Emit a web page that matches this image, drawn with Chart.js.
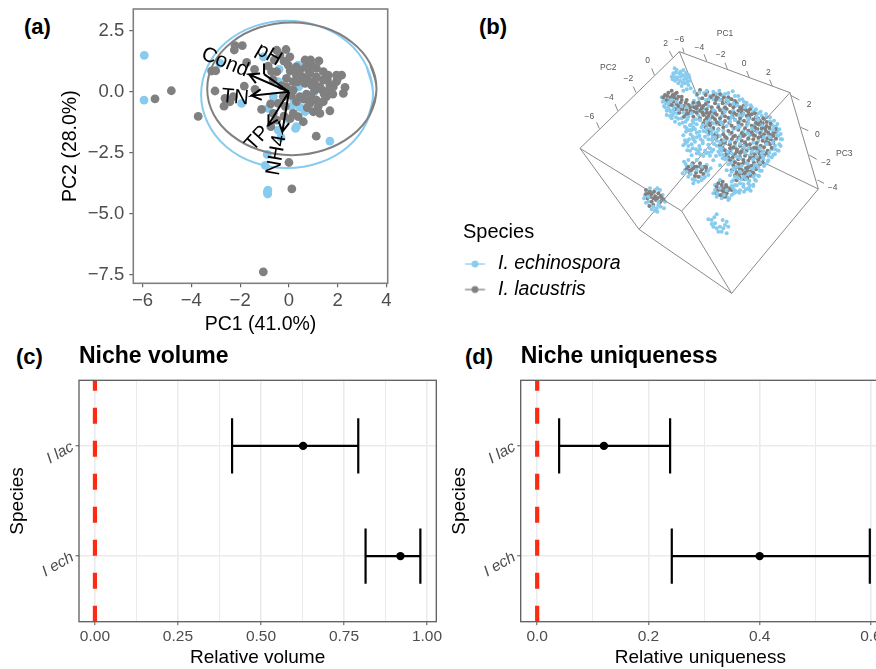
<!DOCTYPE html>
<html>
<head>
<meta charset="utf-8">
<title>Niche comparison</title>
<script src="https://cdn.jsdelivr.net/npm/chart.js@4/dist/chart.umd.min.js"></script>
<style>
  html, body { margin: 0; padding: 0; background: #fff; width: 876px; height: 669px; overflow: hidden; }
  canvas { position: absolute; display: block; }
  .tag { position: absolute; font: bold 22px "Liberation Sans", Arial, sans-serif; color: #000; line-height: 26px; }
</style>
</head>
<body>
<div class="tag" style="left:24px;top:14px">(a)</div>
<div class="tag" style="left:479px;top:14px">(b)</div>
<div class="tag" style="left:16px;top:344px">(c)</div>
<div class="tag" style="left:465px;top:344px">(d)</div>
<canvas id="pca" width="440" height="340" style="left:0;top:0"></canvas>
<canvas id="cube" width="336" height="290" style="left:540px;top:20px"></canvas>
<canvas id="legend" width="400" height="110" style="left:463px;top:218px"></canvas>
<canvas id="volume" width="445" height="326" style="left:0;top:343px"></canvas>
<canvas id="unique" width="460" height="326" style="left:440px;top:343px"></canvas>
<script>
const BLUE = '#87cbee';
const GRAY = '#808080';
const FONT = '"Liberation Sans", Arial, sans-serif';

// panel a
const pcaXTicks = [-6, -4, -2, 0, 2, 4];
const pcaYTicks = [2.5, 0, -2.5, -5, -7.5];
const pcaBlue = [[-5.93,1.49],[-5.94,-.34],[-2.83,1.16],[-1.94,-.48],[-1.05,1.43],[-.4,.92],[.38,1.09],[-.44,.41],
  [-.64,-.2],[-.85,-.68],[.11,-.61],[-.03,-1.13],[.31,-1.43],[.27,-1.5],[.45,-.64],[.66,-.82],[.52,.48],[1,-.07],
  [-.44,-1.57],[-.33,-1.87],[1.68,-2.02],[-.89,-2.57],[-.97,-3.02],[-.86,-4.03],[-.87,-4.19],[-.89,-4.11],[.2,-.35],[.4,.2]];
const pcaGray = [[-4.82,.04],[-5.49,-.29],[-3.72,-1.01],[-3.03,.03],[-2.21,1.89],[-2.24,1.71],[-1.91,1.89],[-1.73,1.2],
  [-1.41,.92],[-3.17,.85],[-3,.86],[-1.83,.23],[-1.39,.1],[-2.62,-.27],[-2.66,-.59],[-2.28,-.2],[-2.42,-.41],[-1.12,-.72],
  [-.74,-1.43],[1.12,-1.82],[1.68,-.78],[1.27,-.89],[0,-2.9],[.12,-3.98],[-1.05,-7.38],
  [-.5,1.7],[-.12,1.73],[-.37,1.5],[.04,1.43],[-.03,1.09],[-.71,.82],[-.5,.82],[-.2,1.25],[-.85,1.05],[-.6,1.3],
  [.66,1.3],[.89,1.3],[1.23,1.26],[.93,1.09],[1.13,.96],[1.41,.82],[1.61,.68],[1.95,.68],[2.16,.68],[2.3,.18],[2.23,-.07],
  [1.95,.41],[1.68,.27],[1.41,.48],[1.13,.61],[.86,.75],[.45,.89],[.31,.68],[.18,.41],[-.1,.55],[.66,.34],[.93,.27],
  [1.27,.2],[1.54,-.2],[1.41,-.41],[1.13,-.34],[.86,-.48],[1,-.82],[.45,-.2],[.18,.07],[.31,-.41],[-.23,-.2],[-.44,-.48],
  [-.64,-.89],[-.5,-1.16],[.18,-.89],[.38,-1.02],[.59,-1.23],[.05,.85],[.3,1.02],[.7,1.03],[.55,.62],[.78,.48],[1.05,.42],
  [1.35,.08],[1.62,.05],[1.82,.2],[1.05,.05],[.72,-.1],[.62,-.3],[.9,-.2],[1.2,-.6],[.75,-.65],[.1,-.15],[-.1,.2],[.35,.4],
  [-.3,.25],[-.65,.5],[-.15,-.6],[.05,-1.1],[-.2,-1],[-.75,-.5],[1.58,.48],[2,.55],[1.8,-.1],[1.45,-.1],[.25,.95],[.8,.9]];
// outlines overlap at the seam so the curve stays smooth there
const blueEllipse = [[3.18,-1.27],[3.45,-.11],[3.18,1.05],[2.42,2.03],[1.275,2.68],[-.075,2.91],[-1.425,2.68],[-2.57,2.03],[-3.33,1.05],
  [-3.6,-.11],[-3.33,-1.27],[-2.57,-2.25],[-1.425,-2.9],[-.075,-3.13],[1.275,-2.9],[2.42,-2.25],[3.18,-1.27],[3.45,-.11],[3.18,1.05]];
const grayEllipse = [[3.33,-.92],[3.59,.12],[3.33,1.16],[2.57,2.04],[1.45,2.63],[.12,2.84],[-1.21,2.63],[-2.33,2.04],[-3.09,1.16],
  [-3.35,.12],[-3.09,-.92],[-2.33,-1.8],[-1.21,-2.39],[.12,-2.6],[1.45,-2.39],[2.57,-1.8],[3.33,-.92],[3.59,.12],[3.33,1.16]];
const loadingNames = ['Cond', 'pH', 'TN', 'TP', 'NH4'];
const loadingEnds = [[-1.63,.71],[-1.02,.72],[-1.53,-.16],[-.85,-1.37],[-.27,-1.64]];
const loadingLabelAt = [[-2.62,1.2],[-.82,1.52],[-2.21,-.23],[-1.29,-1.92],[-.5,-2.6]];
const loadingLabelTurn = [22, 30, 5, -48, -80];
const phStem = [[-1.02,.72],[-1.02,1.16]];

// panel b, plot units are the projected picture coordinates
const cubeEdgesBack = [[[418,95],[525,357]],[[525,357],[835,507]],[[525,357],[297,628]]];
const cubeEdgesFront = [[[418,95],[750,218]],[[750,218],[835,507]],[[835,507],[575,820]],[[575,820],[297,628]],
  [[297,628],[120,385]],[[120,385],[418,95]],[[120,385],[425,573]],[[425,573],[750,218]],[[425,573],[575,820]]];
const cubeTicks = [[[432,98],[428,83]],[[500,123],[492,103]],[[562,147],[555,128]],[[628,173],[620,153]],[[697,199],[689,179]],
  [[398,112],[388,93]],[[343,165],[335,145]],[[288,218],[280,200]],[[233,272],[225,252]],[[178,326],[170,307]],
  [[752,226],[778,240]],[[782,322],[805,332]],[[808,405],[830,418]],[[832,480],[852,490]]];
const cubeTexts = ['PC1','PC2','PC3','−6','−4','−2','0','2','2','0','−2','−4','−6','2','0','−2','−4'];
const cubeTextAt = [[555,40],[205,143],[913,400],[418,60],[478,83],[542,105],[612,130],[685,157],
  [377,72],[323,123],[265,177],[207,232],[148,290],[807,255],[832,345],[858,428],[878,503]];
const cubeBlue = [[404,145],[407,158],[402,170],[398,178],[412,172],[420,182],[430,150],[438,158],[446,165],[428,165],[440,175],
  [450,182],[415,190],[425,198],[435,190],[445,195],[452,205],[440,208],[430,212],[405,182],[418,160],[395,170],[432,178],
  [378,250],[385,262],[372,240],[392,275],[380,285],[395,295],[405,305],[388,240],[400,258],[412,280],[425,295],[437,305],
  [418,312],[445,290],[452,315],[435,320],[380,272],[365,232],[398,285],[410,265],
  [470,225],[492,219],[510,228],[528,221],[545,226],[565,219],[585,228],[462,242],[478,236],[498,241],[520,238],[548,243],
  [572,237],[598,240],[612,246],[455,256],[470,251],[505,258],[535,254],[560,250],[585,259],[620,255],[635,262],
  [468,271],[490,268],[525,273],[550,267],[580,272],[610,268],[640,274],[655,280],[475,286],[515,283],[545,288],[575,282],
  [605,289],[632,284],[665,287],[680,292],[480,301],[510,298],[540,303],[570,297],[600,302],[625,299],[650,303],[672,298],[690,304],
  [450,316],[470,313],[500,317],[530,312],[560,318],[595,314],[620,317],[645,313],[668,318],[695,314],[708,320],
  [445,331],[465,328],[490,333],[520,329],[550,332],[580,327],[610,333],[640,329],[665,332],[690,328],[712,334],
  [430,346],[452,343],[478,347],[505,344],[540,348],[570,342],[600,347],[630,344],[660,348],[685,343],[715,347],
  [435,361],[460,358],[488,363],[515,359],[530,362],[560,357],[590,362],[625,358],[655,363],[680,359],[700,362],[722,358],
  [430,376],[455,373],[478,378],[505,374],[530,377],[552,372],[585,378],[615,374],[650,377],[678,372],[705,377],[718,373],
  [442,391],[468,388],[495,392],[520,389],[545,393],[575,388],[605,392],[640,388],[670,393],[695,388],[712,391],
  [455,406],[480,403],[510,407],[540,404],[565,408],[600,403],[630,407],[660,403],[685,407],[700,404],
  [520,421],[555,418],[580,422],[610,419],[640,423],[670,418],[685,421],[540,436],[565,433],[595,437],[625,434],[650,437],[675,433],
  [560,451],[585,448],[610,452],[635,449],[660,452],[570,466],[595,463],[620,467],[645,464],[655,467],
  [580,481],[605,478],[628,482],[645,479],[590,496],[610,493],[630,497],[640,494],[600,511],[618,508],[632,512],
  [432,425],[440,440],[428,460],[445,470],[458,478],[475,485],[490,475],[505,465],[512,445],[500,435],[470,420],[445,420],[435,450],[460,490],[480,470],[498,455],
  [525,510],[520,520],[530,530],[545,535],[560,530],[575,525],[590,515],[585,495],[575,485],[540,480],[525,495],[565,540],
  [345,510],[360,510],[368,525],[315,525],[350,565],[362,560],[372,565],[345,572],[325,545],[318,548],[355,555],
  [505,598],[515,600],[530,583],[525,610],[548,600],[560,605],[565,620],[555,615],[540,620],[530,625],[520,620],[545,635],[560,640],[535,635],[515,612],[523,592],[550,625]];
const cubeGray = [[375,225],[385,218],[395,212],[405,222],[415,230],[380,240],[392,232],[400,245],[410,252],[422,248],[432,258],
  [440,270],[420,268],[405,268],[395,255],[445,255],[452,272],[462,262],[475,248],[470,278],[485,265],[460,290],
  [480,210],[497,225],[512,232],[535,235],[552,232],[575,238],[590,250],[505,245],[525,250],[548,250],[570,255],[600,262],[618,270],
  [480,272],[500,268],[515,273],[540,270],[560,267],[595,272],[625,276],[490,285],[505,288],[530,284],[555,289],[590,284],[620,288],[648,291],
  [495,301],[525,298],[555,303],[585,299],[612,302],[640,298],[660,303],[680,306],[510,316],[540,313],[575,317],[605,314],[635,317],[655,313],[680,318],
  [505,331],[535,328],[565,333],[595,329],[625,332],[652,328],[678,333],[700,336],[520,346],[550,343],[585,347],[615,344],[645,347],[672,343],[700,348],
  [545,361],[575,358],[605,362],[640,358],[668,362],[692,358],[540,376],[570,373],[600,377],[630,373],[662,377],[690,373],
  [555,391],[590,388],[620,392],[655,388],[683,392],[555,406],[585,403],[615,407],[645,403],[672,406],
  [570,421],[595,418],[625,422],[655,418],[580,436],[605,433],[635,437],[660,433],[575,451],[600,448],[622,452],[648,448],
  [585,466],[610,463],[632,467],[590,481],[615,478],
  [445,440],[458,430],[470,440],[480,430],[492,440],[500,450],[455,450],[468,458],[482,455],[475,470],[490,462],[450,460],
  [535,490],[548,485],[558,495],[570,505],[545,500],[535,510],[550,515],[560,520],[575,510],[540,525],[555,530],
  [318,510],[325,520],[335,522],[345,530],[355,520],[365,535],[322,535],[335,545],[348,540],[360,545],[328,558],[340,555],[370,538],
  [370,232],[382,228],[398,225],[410,238],[425,240],[437,248],[388,252],[402,232],[415,258],[428,268],[438,282],[450,262],[460,275],[445,280],[432,290],[418,278],[470,265],[478,255],[490,258],
  [472,222],[487,235],[502,215],[520,225],[540,222],[528,240],[560,243],[585,243],[610,258],[630,268],[645,280],[497,252],[515,262],[535,262],[555,262],[580,262],[605,278],[635,283],
  [487,278],[508,279],[525,280],[548,278],[570,276],[583,280],[610,281],[500,294],[518,292],[540,295],[565,293],[578,291],[600,295],[628,293],[655,296],[670,295],
  [490,310],[505,308],[530,307],[548,310],[568,308],[595,307],[622,309],[648,308],[668,310],[692,311],[497,322],[520,324],[550,322],[585,323],[615,325],[645,322],[665,325],[688,323],[708,327],
  [510,338],[528,340],[575,338],[605,339],[635,337],[660,339],[685,338],[705,340],[530,352],[560,354],[595,353],[625,355],[655,353],[682,355],[708,356],
  [555,367],[585,368],[615,367],[650,369],[678,367],[700,368],[548,383],[580,382],[610,384],[642,383],[672,382],[695,383],[570,397],[600,398],[635,398],[662,397],[680,399],
  [565,413],[600,412],[630,414],[660,412],[585,427],[612,428],[642,429],[668,427],[590,442],[618,444],[645,442],[590,457],[615,458],[640,458],[598,472],[622,473],
  [440,448],[462,440],[486,448],[465,468],[498,442],[445,452],[530,500],[565,510],[545,510],[555,505],[530,520],[548,525],[330,530],[342,515],[352,535],[318,522],[362,528],
  [460,248],[440,240],[425,230],[410,218],[395,240],[530,232],[545,240],[565,232],[605,268],[625,285],[660,310],[675,325],[693,345],[685,368],[650,385],[620,375],[590,395],[560,400],[545,370],[530,345],[515,310],[500,278],[480,295],[470,260],
  [555,350],[580,350],[610,348],[640,345],[665,350],[570,385],[605,395],[630,385],[658,400],[640,412],[610,420],[578,412],[595,432],[625,442],[655,425],[605,450],[630,455],[598,462],[480,440],[460,445],[545,495],[560,500],[340,535],[330,515]];
// blue dots that sit over the gray ones
const cubeBlueTop = [[410,150],[422,155],[436,168],[448,172],[410,178],[422,170],[400,160],[442,185],[428,188],
  [372,258],[388,270],[375,262],[402,278],[415,296],[390,288],[428,308],[442,298],[458,302],[408,292],[368,245],
  [463,215],[478,218],[500,212],[520,215],[538,212],[555,222],[578,214],[595,228],[607,238],[620,248],[632,256],[648,268],[662,275],[678,282],[690,292],[702,302],[712,312],[718,328],[722,342],[726,358],[722,378],[716,392],[705,402],[695,412],[683,425],[672,438],[665,452],[657,468],[648,482],[640,498],[628,508],[612,515],[598,518],[585,512],
  [438,335],[455,330],[470,338],[485,322],[498,335],[512,328],[530,338],[518,352],[495,350],[470,352],[442,365],[465,365],[488,370],[510,385],[522,372],[540,368],[545,385],[535,395],[550,405],[560,415],[572,430],[458,385],[480,388],[505,398],[490,408],[470,400],[445,378],
  [505,238],[540,240],[565,245],[592,256],[610,282],[575,292],[545,310],[590,325],[622,340],[600,355],[650,335],[672,352],[640,368],[612,382],[660,385],[690,352],[680,372],[635,395],[600,415],[650,410],[620,430],[590,440],[640,445],[610,470],[625,490],[600,490],[670,410],[700,330],[655,300],[625,310],[480,300],[520,270],[555,275],[585,300],
  [437,432],[452,462],[485,480],[505,452],[465,480],[532,520],[552,525],[580,505],[568,535],[582,520],[330,505],[352,505],[375,545],[335,568],[352,575],[312,535],
  [440,325],[460,322],[478,335],[500,325],[515,340],[525,352],[505,358],[482,358],[458,350],[447,358],[436,370],[450,392],[475,395],[498,400],[515,395],[528,408],[548,415],[540,385],[563,395],[552,362],[535,330],[520,310],[500,305],[488,315],[460,308],[468,298],[452,330],
  [560,240],[580,250],[615,262],[650,290],[625,295],[598,285],[570,305],[600,320],[635,325],[665,315],[700,318],[710,345],[698,368],[705,388],[688,398],[665,400],[650,395],[625,385],[600,372],[570,365],[575,400],[590,410],[615,398],[640,418],[660,428],[645,435],[605,438],[580,445],[600,455],[628,460],[655,442],[640,470],[618,478],[595,475],[610,500],[625,505],[585,470],[575,455],
  [395,240],[410,245],[425,258],[440,262],[455,280],[430,278],[415,270],[400,268],[385,250],[440,455],[470,450],[495,470],[455,435],[485,440],[540,505],[560,510],[575,498],[325,530],[340,560],[355,545]];

// legend
const speciesNames = ['I. echinospora', 'I. lacustris'];

// panels c and d
const categories = ['I lac', 'I ech'];
const volumeLow = [0.413, 0.815];
const volumeMid = [0.627, 0.92];
const volumeHigh = [0.793, 0.98];
const volumeTicks = [0, 0.25, 0.5, 0.75, 1];
const volumeMinor = [0.125, 0.375, 0.625, 0.875];
const uniqueLow = [0.0395, 0.242];
const uniqueMid = [0.12, 0.4];
const uniqueHigh = [0.239, 0.598];
const uniqueTicks = [0, 0.2, 0.4, 0.6];
const uniqueMinor = [0.1, 0.3, 0.5];

Chart.defaults.font.family = FONT;
Chart.defaults.animation = false;
Chart.defaults.responsive = false;
Chart.defaults.layout.autoPadding = false;
Chart.defaults.plugins.legend.display = false;
Chart.defaults.plugins.tooltip.enabled = false;

const setTicks = values => axis => { axis.ticks = values.map(v => ({ value: v })); };

// fixes the axis band and drops the room kept for overhanging labels
const fitAxis = (prop, size) => s => {
  s[prop] = size;
  s.paddingTop = s.paddingBottom = s.paddingLeft = s.paddingRight = 0;
};

// closes the panel on all four sides
const frame = (color, width) => ({
  id: 'frame',
  afterDatasetsDraw(chart) {
    const a = chart.chartArea, ctx = chart.ctx;
    ctx.save();
    ctx.strokeStyle = color;
    ctx.lineWidth = width;
    ctx.strokeRect(a.left, a.top, a.right - a.left, a.bottom - a.top);
    ctx.restore();
  }
});

// V heads on the loading arrows, the two axes share one unit length
function arrowPoints(end) {
  const back = Math.atan2(-end[1], -end[0]);
  const head = t => [end[0] + 0.45 * Math.cos(back + t), end[1] + 0.45 * Math.sin(back + t)];
  return [[0, 0], end, head(0.5), end, head(-0.5)];
}

const arrowText = {
  id: 'arrowText',
  afterDatasetsDraw(chart) {
    const ctx = chart.ctx, x = chart.scales.x, y = chart.scales.y;
    ctx.save();
    ctx.fillStyle = '#000';
    ctx.font = '20.5px ' + FONT;
    ctx.textAlign = 'center';
    ctx.textBaseline = 'middle';
    loadingNames.forEach((name, i) => {
      ctx.save();
      ctx.translate(x.getPixelForValue(loadingLabelAt[i][0]), y.getPixelForValue(loadingLabelAt[i][1]));
      ctx.rotate(loadingLabelTurn[i] * Math.PI / 180);
      ctx.fillText(name, 0, 0);
      ctx.restore();
    });
    ctx.restore();
  }
};

const pcaLine = (data, color, width, order, tension) => ({
  type: 'scatter', data, showLine: true, borderColor: color, borderWidth: width,
  pointRadius: 0, tension: tension || 0, order, clip: false
});

new Chart(document.getElementById('pca'), {
  type: 'scatter',
  data: {
    datasets: [
      { data: pcaBlue, backgroundColor: BLUE, pointRadius: 4.4, pointBorderWidth: 0, order: 6 },
      { data: pcaGray, backgroundColor: GRAY, pointRadius: 4.4, pointBorderWidth: 0, order: 5 },
      pcaLine(blueEllipse, BLUE, 2, 4, 0.4),
      pcaLine(grayEllipse, GRAY, 2, 3, 0.4),
      pcaLine(phStem, '#000', 2, 1),
      ...loadingEnds.map((end, i) => pcaLine(i === 1 ? [[0, 0], end] : arrowPoints(end), '#000', 2, 1))
    ]
  },
  options: {
    layout: { padding: { left: 59, top: 9, right: 52.3, bottom: 0 } },
    scales: {
      x: {
        min: -6.38, max: 4.05,
        afterBuildTicks: setTicks(pcaXTicks),
        afterFit: fitAxis('height', 340 - 283.3),
        border: { display: false },
        grid: { drawOnChartArea: false, color: '#666', tickLength: 4, lineWidth: 1.2 },
        ticks: { autoSkip: false, maxRotation: 0, color: '#4d4d4d', font: { size: 18.5 }, padding: 3,
          callback: v => String(v).replace('-', '−') },
        title: { display: true, text: 'PC1 (41.0%)', color: '#000', font: { size: 19.5 }, padding: { top: 0, bottom: 4 } }
      },
      y: {
        min: -7.85, max: 3.39,
        afterBuildTicks: setTicks(pcaYTicks),
        afterFit: fitAxis('width', 133.3 - 59),
        border: { display: false },
        grid: { drawOnChartArea: false, color: '#666', tickLength: 4, lineWidth: 1.2 },
        ticks: { autoSkip: false, color: '#4d4d4d', font: { size: 18.5 }, padding: 5,
          callback: v => v.toFixed(1).replace('-', '−') },
        title: { display: true, text: 'PC2 (28.0%)', color: '#000', font: { size: 19.5 }, padding: 0 }
      }
    }
  },
  plugins: [frame(GRAY, 1.6), arrowText]
});

const cubeLine = (seg, order) => ({
  data: seg, showLine: true, borderColor: '#8a8a8a', borderWidth: 1, pointRadius: 0, order
});

const cubeDots = (data, color, order) => ({
  data, backgroundColor: color, pointRadius: 2, pointBorderWidth: 0, order
});

const cubeText = {
  id: 'cubeText',
  afterDatasetsDraw(chart) {
    const ctx = chart.ctx, x = chart.scales.x, y = chart.scales.y;
    ctx.save();
    ctx.fillStyle = '#555';
    ctx.font = '8.5px ' + FONT;
    ctx.textAlign = 'center';
    ctx.textBaseline = 'middle';
    cubeTexts.forEach((t, i) => {
      ctx.fillText(t, x.getPixelForValue(cubeTextAt[i][0]), y.getPixelForValue(cubeTextAt[i][1]));
    });
    ctx.restore();
  }
};

new Chart(document.getElementById('cube'), {
  type: 'scatter',
  data: {
    datasets: [
      ...cubeEdgesBack.map(seg => cubeLine(seg, 9)),
      cubeDots(cubeBlue, BLUE, 8),
      cubeDots(cubeGray, GRAY, 7),
      cubeDots(cubeBlueTop, BLUE, 6),
      ...cubeEdgesFront.map(seg => cubeLine(seg, 2)),
      ...cubeTicks.map(seg => cubeLine(seg, 2))
    ]
  },
  options: {
    layout: { padding: 0 },
    scales: {
      x: { display: false, min: 0, max: 1008 },
      y: { display: false, min: 0, max: 870, reverse: true }
    }
  },
  plugins: [cubeText]
});

// legend key, a short line with a dot on it
function legendKey(color) {
  const c = document.createElement('canvas');
  c.width = 30; c.height = 10;
  const k = c.getContext('2d');
  k.strokeStyle = color; k.fillStyle = color; k.lineWidth = 1.3;
  k.beginPath(); k.moveTo(1.4, 5); k.lineTo(21.4, 5); k.stroke();
  k.beginPath(); k.arc(11.4, 5, 3.4, 0, 2 * Math.PI); k.fill();
  return c;
}

new Chart(document.getElementById('legend'), {
  type: 'scatter',
  data: {
    datasets: [
      { label: speciesNames[0], data: [], pointStyle: legendKey(BLUE) },
      { label: speciesNames[1], data: [], pointStyle: legendKey(GRAY) }
    ]
  },
  options: {
    layout: { padding: 0 },
    scales: { x: { display: false }, y: { display: false } },
    plugins: {
      legend: {
        display: true, position: 'left', align: 'start', onClick: null,
        title: { display: true, text: 'Species', color: '#000', position: 'start', font: { size: 20 }, padding: { top: 4, bottom: 2.3 } },
        labels: { usePointStyle: true, pointStyleWidth: 19.25, color: '#000', padding: 6, font: { size: 19.5, style: 'italic' } }
      }
    }
  }
});

function errorSets(low, mid, high) {
  const sets = [];
  categories.forEach((c, i) => {
    sets.push({ data: [[low[i], i], [high[i], i]] });
    sets.push({ data: [[low[i], i - 0.25], [low[i], i + 0.25]] });
    sets.push({ data: [[high[i], i - 0.25], [high[i], i + 0.25]] });
  });
  sets.forEach(s => Object.assign(s, { showLine: true, borderColor: '#000', borderWidth: 2.2, pointRadius: 0, order: 2 }));
  sets.push({ data: mid.map((m, i) => [m, i]), backgroundColor: '#000', pointRadius: 4.2, pointBorderWidth: 0, order: 1 });
  return sets;
}

function nichePanel(id, titleText, xText, o) {
  const isMajor = v => o.ticks.includes(v);
  return new Chart(document.getElementById(id), {
    type: 'scatter',
    data: {
      datasets: [
        { data: [[0, 1.595], [0, -0.595]], showLine: true, borderColor: '#ff2a12', borderWidth: 4.2,
          borderDash: [16, 17], pointRadius: 0, order: 0 },
        ...errorSets(o.low, o.mid, o.high)
      ]
    },
    options: {
      layout: { padding: { left: o.padLeft, right: o.padRight, top: 0, bottom: 0 } },
      plugins: {
        title: { display: true, text: titleText, color: '#000', align: 'start', fullSize: false,
          font: { size: 23, weight: 'bold' }, padding: { top: 0, bottom: 9.7 } }
      },
      scales: {
        x: {
          min: o.min, max: o.max,
          afterBuildTicks: setTicks([...o.ticks, ...o.minor]),
          afterFit: fitAxis('height', 326 - 278.7),
          border: { display: false },
          grid: {
            color: '#ebebeb', tickLength: 3.5,
            lineWidth: c => isMajor(c.tick.value) ? 1.6 : 1,
            tickColor: c => isMajor(c.tick.value) ? '#555' : 'rgba(0,0,0,0)',
            tickWidth: 1
          },
          ticks: { autoSkip: false, maxRotation: 0, color: '#4d4d4d', font: { size: 15.5 }, padding: 2,
            callback: v => isMajor(v) ? v.toFixed(o.digits) : '' },
          title: { display: true, text: xText, color: '#000', font: { size: 19 }, padding: 0 }
        },
        y: {
          min: -0.595, max: 1.595, reverse: true,
          afterBuildTicks: setTicks([0, 1]),
          afterFit: fitAxis('width', o.axisWidth),
          border: { display: false },
          grid: { color: '#ebebeb', lineWidth: 1.6, tickLength: 3.5, tickColor: '#555', tickWidth: 1 },
          ticks: { autoSkip: false, minRotation: 30, maxRotation: 30, color: '#4d4d4d', padding: 3,
            font: { size: 15.5, style: 'italic' }, callback: v => categories[v] },
          title: { display: true, text: 'Species', color: '#000', font: { size: 19 }, padding: 0 }
        }
      }
    },
    plugins: [frame('#5c5c5c', 1.3)]
  });
}

nichePanel('volume', 'Niche volume', 'Relative volume', {
  low: volumeLow, mid: volumeMid, high: volumeHigh, ticks: volumeTicks, minor: volumeMinor,
  min: -0.048, max: 1.028, digits: 2, padLeft: 6, padRight: 8.7, axisWidth: 73
});
nichePanel('unique', 'Niche uniqueness', 'Relative uniqueness', {
  low: uniqueLow, mid: uniqueMid, high: uniqueHigh, ticks: uniqueTicks, minor: uniqueMinor,
  min: -0.0296, max: 0.6163, digits: 1, padLeft: 7.9, padRight: 20, axisWidth: 72.8
});
</script>
</body>
</html>
